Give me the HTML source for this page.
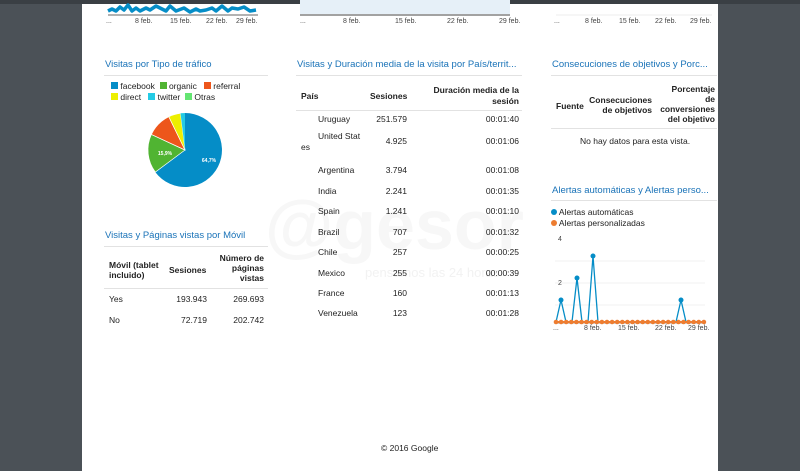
<!DOCTYPE html>
<html><head><meta charset="utf-8"><style>
body{margin:0;width:800px;height:471px;background:#4b5157;position:relative;overflow:hidden;font-family:"Liberation Sans",sans-serif;font-size:8.5px;color:#222}
.page{position:absolute;left:82px;top:4px;width:636px;height:467px;background:#fff}
.a{position:absolute;white-space:nowrap}
.t{position:absolute;color:#1a73b8;font-size:9.5px;white-space:nowrap}
.ln{position:absolute;height:1px;background:#e2e2e2}
.tk{position:absolute;font-size:7px;color:#444;white-space:nowrap}
.b{font-weight:bold}
.r{text-align:right}
</style></head><body>
<div style="position:absolute;left:0;top:0;width:800px;height:4px;background:#3a3f44"></div>
<div class="page"></div>
<svg class="a" style="left:0;top:0" width="800" height="471">
 <rect x="300" y="0" width="210" height="14" fill="#e6f0f8"/>
 <line x1="300" y1="15" x2="510" y2="15" stroke="#444" stroke-width="1"/>
 <line x1="108" y1="15" x2="258" y2="15" stroke="#666" stroke-width="1"/>
 <line x1="556" y1="15" x2="712" y2="15" stroke="#eee" stroke-width="1"/>
 <polyline points="108,11 112,9 116,11 120,7 124,10 128,5 132,11 136,8 140,11 146,8 150,10 156,6 162,9 166,11 170,6 176,11 184,8 190,12 196,9 200,11 206,10 212,8 216,11 222,6 228,11 232,8 238,9 244,7 250,11 256,10" fill="none" stroke="#058dc7" stroke-width="3.5" stroke-linejoin="round"/>
 <g transform="translate(185,150)">
  <path d="M0,0 L0,-37 A37,37 0 1,1 -29.7,22.1 Z" fill="#058dc7"/>
  <path d="M0,0 L-29.7,22.1 A37,37 0 0,1 -33.6,-15.6 Z" fill="#50b432" stroke="#fff" stroke-width="0.7"/>
  <path d="M0,0 L-33.6,-15.6 A37,37 0 0,1 -16.2,-33.3 Z" fill="#ed561b" stroke="#fff" stroke-width="0.7"/>
  <path d="M0,0 L-16.2,-33.3 A37,37 0 0,1 -4.5,-36.7 Z" fill="#edef00" stroke="#fff" stroke-width="0.7"/>
  <path d="M0,0 L-4.5,-36.7 A37,37 0 0,1 0,-37 Z" fill="#24cbe5"/>
  <text x="24" y="12" font-size="5" fill="#fff" font-weight="bold" text-anchor="middle">64,7%</text>
  <text x="-20" y="5" font-size="5" fill="#fff" font-weight="bold" text-anchor="middle">15,9%</text>
 </g>
 <line x1="555" y1="261" x2="705" y2="261" stroke="#f0f0f0"/>
 <line x1="555" y1="283" x2="705" y2="283" stroke="#f0f0f0"/>
 <line x1="555" y1="305" x2="705" y2="305" stroke="#f0f0f0"/>
 <line x1="555" y1="323" x2="705" y2="323" stroke="#999"/>
 <polyline points="556,322 561,300 566,322 572,322 577,278 582,322 588,322 593,256 598,322 676,322 681,300 686,322 705,322" fill="none" stroke="#058dc7" stroke-width="1.3"/>
 <g fill="#058dc7"><circle cx="561" cy="300" r="2.5"/><circle cx="577" cy="278" r="2.5"/><circle cx="593" cy="256" r="2.5"/><circle cx="681" cy="300" r="2.5"/></g>
 <line x1="556" y1="322" x2="704" y2="322" stroke="#ed7d31" stroke-width="2"/>
 <g fill="#ed7d31" id="od"></g>
</svg>
<div class="a" style="left:265px;top:185px;font-size:70px;color:#f7f7f7;font-weight:bold">@gesor</div>
<div class="a" style="left:365px;top:265px;font-size:13px;color:#f2f2f2">pensamos las 24 horas</div>
<div class="tk" style="left:106px;top:18px">...</div><div class="tk" style="left:135px;top:18px">8 feb.</div><div class="tk" style="left:170px;top:18px">15 feb.</div><div class="tk" style="left:206px;top:18px">22 feb.</div><div class="tk" style="left:236px;top:18px">29 feb.</div>
<div class="tk" style="left:300px;top:18px">...</div><div class="tk" style="left:343px;top:18px">8 feb.</div><div class="tk" style="left:395px;top:18px">15 feb.</div><div class="tk" style="left:447px;top:18px">22 feb.</div><div class="tk" style="left:499px;top:18px">29 feb.</div>
<div class="tk" style="left:554px;top:18px">...</div><div class="tk" style="left:585px;top:18px">8 feb.</div><div class="tk" style="left:619px;top:18px">15 feb.</div><div class="tk" style="left:655px;top:18px">22 feb.</div><div class="tk" style="left:690px;top:18px">29 feb.</div>
<div class="t" style="left:105px;top:59px">Visitas por Tipo de tráfico</div><div class="ln" style="left:104px;top:75px;width:164px"></div>
<div class="t" style="left:297px;top:59px">Visitas y Duración media de la visita por País/territ...</div><div class="ln" style="left:296px;top:75px;width:226px"></div>
<div class="t" style="left:552px;top:59px">Consecuciones de objetivos y Porc...</div><div class="ln" style="left:551px;top:75px;width:166px"></div>
<div class="a" style="left:111px;top:81px;font-size:8.5px;line-height:11px">
<span style="display:inline-block;width:7px;height:7px;background:#058dc7"></span> facebook &nbsp;<span style="display:inline-block;width:7px;height:7px;background:#50b432"></span> organic &nbsp;&nbsp;<span style="display:inline-block;width:7px;height:7px;background:#ed561b"></span> referral<br>
<span style="display:inline-block;width:7px;height:7px;background:#edef00"></span> direct &nbsp;&nbsp;<span style="display:inline-block;width:7px;height:7px;background:#24cbe5"></span> twitter &nbsp;<span style="display:inline-block;width:7px;height:7px;background:#64e572"></span> Otras</div>
<div class="t" style="left:105px;top:230px">Visitas y Páginas vistas por Móvil</div><div class="ln" style="left:104px;top:246px;width:164px"></div>
<div class="a b" style="left:109px;top:260px;line-height:10px">Móvil (tablet<br>incluido)</div>
<div class="a b" style="left:169px;top:265px">Sesiones</div>
<div class="a b r" style="left:214px;top:253px;width:50px;line-height:10px">Número de<br>páginas<br>vistas</div>
<div class="ln" style="left:104px;top:288px;width:164px"></div>
<div class="a" style="left:109px;top:294px">Yes</div><div class="a r" style="left:160px;top:294px;width:47px">193.943</div><div class="a r" style="left:220px;top:294px;width:44px">269.693</div>
<div class="a" style="left:109px;top:315px">No</div><div class="a r" style="left:160px;top:315px;width:47px">72.719</div><div class="a r" style="left:220px;top:315px;width:44px">202.742</div>
<div class="a b" style="left:301px;top:91px">País</div><div class="a b" style="left:370px;top:91px">Sesiones</div>
<div class="a b r" style="left:420px;top:85px;width:99px;line-height:11px">Duración media de la<br>sesión</div>
<div class="ln" style="left:296px;top:110px;width:226px"></div>
<div class="a" style="left:318px;top:114px">Uruguay</div><div class="a r" style="left:360px;top:114px;width:47px">251.579</div><div class="a r" style="left:450px;top:114px;width:69px">00:01:40</div>
<div class="a" style="left:318px;top:131px">United Stat</div><div class="a" style="left:301px;top:142px">es</div><div class="a r" style="left:360px;top:136px;width:47px">4.925</div><div class="a r" style="left:450px;top:136px;width:69px">00:01:06</div>
<div class="a" style="left:318px;top:165px">Argentina</div><div class="a r" style="left:360px;top:165px;width:47px">3.794</div><div class="a r" style="left:450px;top:165px;width:69px">00:01:08</div>
<div class="a" style="left:318px;top:186px">India</div><div class="a r" style="left:360px;top:186px;width:47px">2.241</div><div class="a r" style="left:450px;top:186px;width:69px">00:01:35</div>
<div class="a" style="left:318px;top:206px">Spain</div><div class="a r" style="left:360px;top:206px;width:47px">1.241</div><div class="a r" style="left:450px;top:206px;width:69px">00:01:10</div>
<div class="a" style="left:318px;top:227px">Brazil</div><div class="a r" style="left:360px;top:227px;width:47px">707</div><div class="a r" style="left:450px;top:227px;width:69px">00:01:32</div>
<div class="a" style="left:318px;top:247px">Chile</div><div class="a r" style="left:360px;top:247px;width:47px">257</div><div class="a r" style="left:450px;top:247px;width:69px">00:00:25</div>
<div class="a" style="left:318px;top:268px">Mexico</div><div class="a r" style="left:360px;top:268px;width:47px">255</div><div class="a r" style="left:450px;top:268px;width:69px">00:00:39</div>
<div class="a" style="left:318px;top:288px">France</div><div class="a r" style="left:360px;top:288px;width:47px">160</div><div class="a r" style="left:450px;top:288px;width:69px">00:01:13</div>
<div class="a" style="left:318px;top:308px">Venezuela</div><div class="a r" style="left:360px;top:308px;width:47px">123</div><div class="a r" style="left:450px;top:308px;width:69px">00:01:28</div>
<div class="a b" style="left:556px;top:101px">Fuente</div>
<div class="a b r" style="left:585px;top:95px;width:67px;line-height:10px">Consecuciones<br>de objetivos</div>
<div class="a b r" style="left:655px;top:84px;width:60px;line-height:10px">Porcentaje<br>de<br>conversiones<br>del objetivo</div>
<div class="ln" style="left:551px;top:128px;width:166px"></div>
<div class="a" style="left:580px;top:136px">No hay datos para esta vista.</div>
<div class="t" style="left:552px;top:185px">Alertas automáticas y Alertas perso...</div><div class="ln" style="left:551px;top:200px;width:166px"></div>
<div class="a" style="left:551px;top:207px;line-height:11px"><span style="display:inline-block;width:6px;height:6px;border-radius:3px;background:#058dc7"></span> Alertas automáticas<br><span style="display:inline-block;width:6px;height:6px;border-radius:3px;background:#ed7d31"></span> Alertas personalizadas</div>
<div class="tk" style="left:558px;top:236px">4</div><div class="tk" style="left:558px;top:280px">2</div>
<div class="tk" style="left:553px;top:325px">...</div><div class="tk" style="left:584px;top:325px">8 feb.</div><div class="tk" style="left:618px;top:325px">15 feb.</div><div class="tk" style="left:655px;top:325px">22 feb.</div><div class="tk" style="left:688px;top:325px">29 feb.</div>
<div class="a" style="left:381px;top:443px;font-size:8.5px">© 2016 Google</div>
<script>
var g=document.getElementById('od'),s='';for(var x=556;x<=704;x+=5.1){s+='<circle cx="'+x+'" cy="322" r="2.3"/>';}g.innerHTML=s;
</script>
</body></html>
